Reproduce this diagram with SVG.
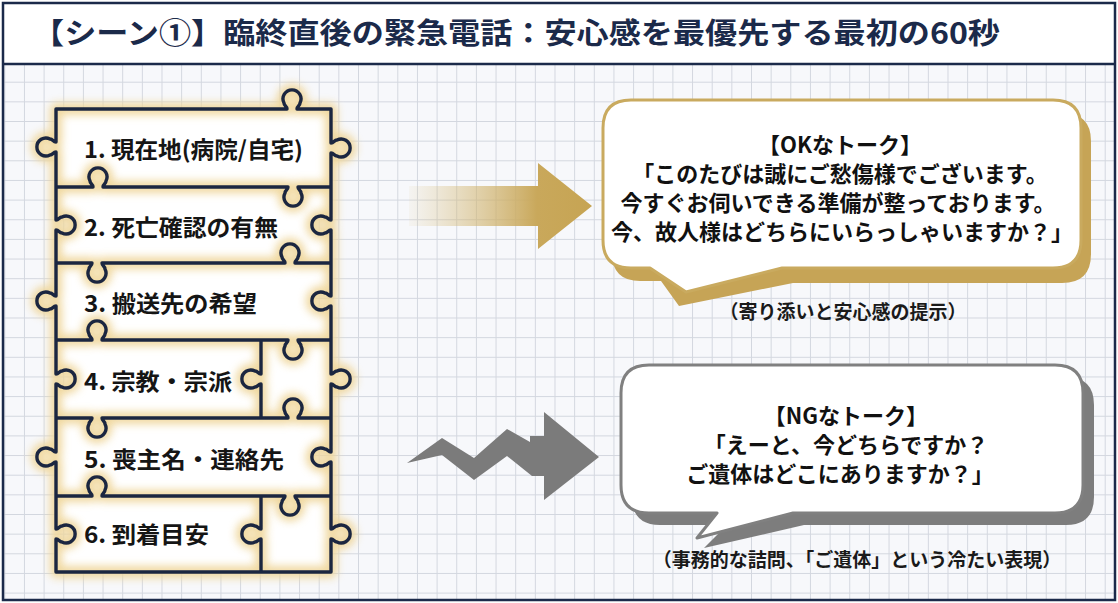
<svg xmlns="http://www.w3.org/2000/svg" width="1118" height="603" viewBox="0 0 1118 603">
<defs>
<style>
.jp{font-family:"Noto Sans CJK JP","Noto Sans",sans-serif;font-weight:700}
.title{font-size:29px;fill:#1b2a4a}
.pz{font-size:23px;fill:#151515}
.bt{font-size:22px;fill:#111;text-anchor:middle}
.cap{font-size:19px;fill:#1a1a1a;text-anchor:middle}
.ln{fill:none;stroke:#1b2640;stroke-width:3.4;stroke-linejoin:round}
.gl{fill:none;stroke:#efd69a;stroke-width:12;stroke-linejoin:round}
</style>
<pattern id="grid" width="19.65" height="19.65" patternUnits="userSpaceOnUse" x="4.3" y="3.1">
<path d="M0,0.5 H19.65 M0.5,0 V19.65" stroke="#d3d7df" stroke-width="1" fill="none"/>
</pattern>
<filter id="blur" x="-20%" y="-20%" width="140%" height="140%"><feGaussianBlur stdDeviation="4.5"/></filter>
<linearGradient id="okg" gradientUnits="userSpaceOnUse" x1="409" y1="0" x2="592" y2="0">
<stop offset="0" stop-color="#d9c184" stop-opacity="0.08"/>
<stop offset="0.7" stop-color="#c9a85b" stop-opacity="1"/>
<stop offset="1" stop-color="#c6a453"/>
</linearGradient>
<path id="outline" d="M56,109 H287 c 0,-3 -3,-3 -3,-6 a9,9 0 1 1 16,0 c 0,3 -3,3 -3,6 H331 V143 c 3,0 3,-3 6,-3 a9,9 0 1 1 0,16 c -3,0 -3,-3 -6,-3 V220 c -3,0 -3,-3 -6,-3 a9,9 0 1 0 0,16 c 3,0 3,-3 6,-3 V296 c -3,0 -3,-3 -6,-3 a9,9 0 1 0 0,16 c 3,0 3,-3 6,-3 V374 c 3,0 3,-3 6,-3 a9,9 0 1 1 0,16 c -3,0 -3,-3 -6,-3 V452 c -3,0 -3,-3 -6,-3 a9,9 0 1 0 0,16 c 3,0 3,-3 6,-3 V529 c 3,0 3,-3 6,-3 a9,9 0 1 1 0,16 c -3,0 -3,-3 -6,-3 V572 H56 V539 c 3,0 3,3 6,3 a9,9 0 1 0 0,-16 c -3,0 -3,3 -6,3 V462 c -3,0 -3,3 -6,3 a9,9 0 1 1 0,-16 c 3,0 3,3 6,3 V384 c 3,0 3,3 6,3 a9,9 0 1 0 0,-16 c -3,0 -3,3 -6,3 V306 c -3,0 -3,3 -6,3 a9,9 0 1 1 0,-16 c 3,0 3,3 6,3 V230 c 3,0 3,3 6,3 a9,9 0 1 0 0,-16 c -3,0 -3,3 -6,3 V152 c -3,0 -3,3 -6,3 a9,9 0 1 1 0,-16 c 3,0 3,3 6,3 Z"/>
<path id="inner" d="M56,187 H93 c 0,-3 -3,-3 -3,-6 a9,9 0 1 1 16,0 c 0,3 -3,3 -3,6 H288 c 0,3 -3,3 -3,6 a9,9 0 1 0 16,0 c 0,-3 -3,-3 -3,-6 H331
M56,263 H92 c 0,3 -3,3 -3,6 a9,9 0 1 0 16,0 c 0,-3 -3,-3 -3,-6 H285 c 0,-3 -3,-3 -3,-6 a9,9 0 1 1 16,0 c 0,3 -3,3 -3,6 H331
M56,340 H92 c 0,-3 -3,-3 -3,-6 a9,9 0 1 1 16,0 c 0,3 -3,3 -3,6 H288 c 0,3 -3,3 -3,6 a9,9 0 1 0 16,0 c 0,-3 -3,-3 -3,-6 H331
M56,418 H92 c 0,3 -3,3 -3,6 a9,9 0 1 0 16,0 c 0,-3 -3,-3 -3,-6 H288 c 0,-3 -3,-3 -3,-6 a9,9 0 1 1 16,0 c 0,3 -3,3 -3,6 H331
M56,496 H92 c 0,-3 -3,-3 -3,-6 a9,9 0 1 1 16,0 c 0,3 -3,3 -3,6 H285 c 0,3 -3,3 -3,6 a9,9 0 1 0 16,0 c 0,-3 -3,-3 -3,-6 H331
M261,340 V374 c -3,0 -3,-3 -6,-3 a9,9 0 1 0 0,16 c 3,0 3,-3 6,-3 V418
M261,496 V529 c -3,0 -3,-3 -6,-3 a9,9 0 1 0 0,16 c 3,0 3,-3 6,-3 V572"/>
</defs>

<g id="frame">
<rect x="3" y="64" width="1112" height="536" fill="#f7f8fb"/>
<rect x="3" y="64" width="1112" height="536" fill="url(#grid)"/>
<rect x="3" y="3" width="1112" height="61" fill="#ffffff"/>
<line x1="3" y1="64" x2="1115" y2="64" stroke="#1b2a4a" stroke-width="2.5"/>
<rect x="3" y="3" width="1112" height="597" fill="none" stroke="#1b2a4a" stroke-width="2.5"/>
</g>

<g id="header">
<text class="jp title" x="32" y="44" textLength="968" lengthAdjust="spacingAndGlyphs">【シーン①】臨終直後の緊急電話：安心感を最優先する最初の60秒</text>
</g>

<g id="puzzle">
<use href="#outline" fill="#ffffff"/>
<g filter="url(#blur)" opacity="0.95">
<use href="#outline" class="gl"/>
<use href="#inner" class="gl"/>
</g>
<use href="#outline" class="ln"/>
<use href="#inner" class="ln"/>
<g id="piece1"><text class="jp pz" x="84" y="158" textLength="219" lengthAdjust="spacingAndGlyphs">1. 現在地(病院/自宅)</text></g>
<g id="piece2"><text class="jp pz" x="84" y="236" textLength="194" lengthAdjust="spacingAndGlyphs">2. 死亡確認の有無</text></g>
<g id="piece3"><text class="jp pz" x="84" y="312" textLength="173" lengthAdjust="spacingAndGlyphs">3. 搬送先の希望</text></g>
<g id="piece4"><text class="jp pz" x="84" y="390" textLength="148" lengthAdjust="spacingAndGlyphs">4. 宗教・宗派</text></g>
<g id="piece5"><text class="jp pz" x="84" y="468" textLength="200" lengthAdjust="spacingAndGlyphs">5. 喪主名・連絡先</text></g>
<g id="piece6"><text class="jp pz" x="84" y="543" textLength="125" lengthAdjust="spacingAndGlyphs">6. 到着目安</text></g>
</g>

<g id="connectors">
<polygon id="ok-arrow" fill="url(#okg)" points="409,186 538,186 538,163 592,206 538,249 538,226 409,226"/>
<polygon id="ng-arrow" fill="#7b7b7b" points="407,463 442,438 474,458 507,429 530,442 530,436 544,436 544,412 599,457 544,500 544,476 532,476 507,456 474,480 442,455"/>
</g>

<g id="ok-bubble">
<path fill="#c6a456" d="M640,113 H1062 Q1091,113 1091,141 V254 Q1091,283 1062,283 H793 L679,306 L661,281 H640 Q612,281 612,253 V141 Q612,113 640,113 Z"/>
<path fill="#ffffff" stroke="#c9aa5f" stroke-width="3" stroke-linejoin="round" d="M631,100 H1053 Q1081,100 1081,128 V240 Q1081,268 1053,268 H782 L686,292 L650,268 H631 Q603,268 603,240 V128 Q603,100 631,100 Z"/>
<text class="jp bt" x="840" y="153">【OKなトーク】<tspan x="840" dy="29">「このたびは誠にご愁傷様でございます。</tspan><tspan x="838" dy="29">今すぐお伺いできる準備が整っております。</tspan><tspan x="842" dy="29">今、故人様はどちらにいらっしゃいますか？」</tspan></text>
<text class="jp cap" x="843" y="319">（寄り添いと安心感の提示）</text>
</g>

<g id="ng-bubble">
<path fill="#7d7d7d" d="M660,377 H1066 Q1094,377 1094,405 V497 Q1094,525 1066,525 H804 L704,548 L727,525 H660 Q632,525 632,497 V405 Q632,377 660,377 Z"/>
<path fill="#ffffff" stroke="#808080" stroke-width="3" stroke-linejoin="round" d="M649,365 H1055 Q1083,365 1083,393 V485 Q1083,513 1055,513 H793 L697,538 L717,513 H649 Q621,513 621,485 V393 Q621,365 649,365 Z"/>
<text class="jp bt" x="846" y="424">【NGなトーク】<tspan x="846" dy="29">「えーと、今どちらですか？</tspan><tspan x="840" dy="29">ご遺体はどこにありますか？」</tspan></text>
<text class="jp cap" x="857" y="567">（事務的な詰問、「ご遺体」という冷たい表現）</text>
</g>
</svg>
